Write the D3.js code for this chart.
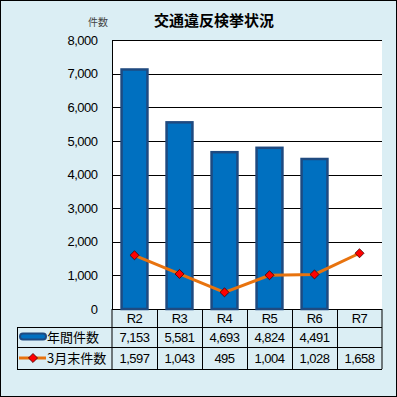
<!DOCTYPE html>
<html>
<head>
<meta charset="utf-8">
<script src="https://cdn.jsdelivr.net/npm/d3@7"></script>
<style>
  body { margin: 0; background: #fff; }
  svg text { font-family: "Noto Sans CJK JP", "DejaVu Sans", sans-serif; }
</style>
</head>
<body>
<div id="chart"></div>
<script>
// data
var categories = ["R2", "R3", "R4", "R5", "R6", "R7"];
var annualCounts = [7153, 5581, 4693, 4824, 4491, null];
var marchCounts = [1597, 1043, 495, 1004, 1028, 1658];
var yTicks = [0, 1000, 2000, 3000, 4000, 5000, 6000, 7000, 8000];
var seriesNames = ["年間件数", "3月末件数"];

var W = 397, H = 397;
var plot = {left: 112, right: 382, top: 40, bottom: 309};
var tableLeft = 17, rowH = [18, 20, 22];
var numFont = "'Liberation Sans', Arial, sans-serif";

var svg = d3.select("#chart").append("svg")
    .attr("width", W)
    .attr("height", H);

// background + frame
svg.append("rect")
    .attr("x", 0.5).attr("y", 0.5)
    .attr("width", W - 1).attr("height", H - 1)
    .attr("fill", "#dbeef4")
    .attr("stroke", "#000");

svg.append("rect")
    .attr("x", plot.left).attr("y", plot.top)
    .attr("width", plot.right - plot.left).attr("height", plot.bottom - plot.top)
    .attr("fill", "#fff");

var fmt = d3.format(",");

var x = d3.scaleBand()
  .domain(categories)
  .range([plot.left, plot.right])
  .paddingInner(0.38)
  .paddingOuter(0.19);

var xc = function(d) { return x(d) + x.bandwidth() / 2; };

var y = d3.scaleLinear()
  .domain([0, 8000])
  .range([plot.bottom, plot.top]);

// gridlines
svg.append("g")
  .selectAll("line")
  .data(yTicks)
  .enter()
  .append("line")
    .attr("x1", plot.left).attr("x2", plot.right)
    .attr("y1", function(d) { return Math.round(y(d)) + 0.5; })
    .attr("y2", function(d) { return Math.round(y(d)) + 0.5; })
    .attr("stroke", "#000");

// y axis
var yAxis = svg.append("g")
  .attr("transform", "translate(" + (plot.left + 0.5) + ",0)")
  .call(d3.axisLeft(y).tickValues(yTicks).tickFormat(fmt).tickSize(0).tickPadding(15));
yAxis.select(".domain")
  .attr("stroke", "#000")
  .attr("d", "M0," + plot.top + "V" + plot.bottom);
yAxis.selectAll("text")
  .attr("font-size", 13)
  .attr("fill", "#000")
  .style("font-family", numFont)
  .attr("letter-spacing", "-0.5");

// unit label + title
svg.append("text")
  .attr("x", 98).attr("y", 26)
  .attr("text-anchor", "middle")
  .attr("font-size", 10)
  .attr("fill", "#444")
  .text("件数");

svg.append("text")
  .attr("x", 214).attr("y", 26)
  .attr("text-anchor", "middle")
  .attr("font-size", 15)
  .attr("font-weight", "bold")
  .text("交通違反検挙状況");

// bars
svg.append("g")
  .selectAll("rect")
  .data(categories.map(function(c, i) { return {c: c, v: annualCounts[i]}; })
    .filter(function(d) { return d.v != null; }))
  .enter()
  .append("rect")
    .attr("x", function(d) { return x(d.c) + 1; })
    .attr("y", function(d) { return y(d.v) + 1; })
    .attr("width", x.bandwidth() - 2)
    .attr("height", function(d) { return y(0) - y(d.v) - 1; })
    .attr("fill", "#0070c0")
    .attr("stroke", "#1f4a80")
    .attr("stroke-width", 2.5);

// line
var lineData = categories.map(function(c, i) { return {c: c, v: marchCounts[i]}; });
svg.append("path")
  .datum(lineData)
  .attr("fill", "none")
  .attr("stroke", "#e8730e")
  .attr("stroke-width", 3)
  .attr("d", d3.line()
    .x(function(d) { return xc(d.c); })
    .y(function(d) { return y(d.v); }));

var diamond = d3.symbol().type(d3.symbolDiamond2).size(52);
svg.append("g")
  .selectAll("path")
  .data(lineData)
  .enter()
  .append("path")
    .attr("d", diamond)
    .attr("transform", function(d) { return "translate(" + xc(d.c) + "," + y(d.v) + ")"; })
    .attr("fill", "#ff0000")
    .attr("stroke", "#400000")
    .attr("stroke-width", 0.8);

// data table
var t0 = plot.bottom, t1 = t0 + rowH[0], t2 = t1 + rowH[1], t3 = t2 + rowH[2];
var tbl = svg.append("g").attr("stroke", "#000").attr("fill", "none");
tbl.append("path").attr("d",
  "M" + plot.left + "," + t0 + "V" + t3 +
  "M" + plot.right + "," + t0 + "V" + t3 +
  "M" + plot.left + "," + (t1 + 0.5) + "H" + plot.right +
  "M" + tableLeft + "," + (t1 + 0.5) + "H" + plot.left +
  "M" + tableLeft + "," + (t2 + 0.5) + "H" + plot.right +
  "M" + tableLeft + "," + (t3 + 0.5) + "H" + plot.right +
  "M" + (tableLeft + 0.5) + "," + t1 + "V" + t3);
tbl.selectAll("line")
  .data(categories.slice(1))
  .enter()
  .append("line")
    .attr("x1", function(d) { return Math.round(xc(d) - x.step() / 2) + 0.5; })
    .attr("x2", function(d) { return Math.round(xc(d) - x.step() / 2) + 0.5; })
    .attr("y1", t0).attr("y2", t3);

var cellText = function(rowY, vals) {
  svg.append("g")
    .selectAll("text")
    .data(categories.map(function(c, i) { return {c: c, v: vals[i]}; }))
    .enter()
    .append("text")
      .attr("x", function(d) { return xc(d.c); })
      .attr("y", rowY)
      .attr("text-anchor", "middle")
      .attr("font-size", 13)
      .attr("letter-spacing", "-0.5")
      .style("font-family", numFont)
      .text(function(d) { return d.v == null ? "" : (typeof d.v === "number" ? fmt(d.v) : d.v); });
};
cellText(t0 + 14, categories);
cellText(t1 + 15, annualCounts);
cellText(t2 + 16, marchCounts);

// legend keys in the table header
svg.append("rect")
  .attr("x", 20).attr("y", t1 + 6.5)
  .attr("width", 26).attr("height", 6)
  .attr("rx", 3)
  .attr("fill", "#0070c0")
  .attr("stroke", "#1f4a80")
  .attr("stroke-width", 2);
svg.append("line")
  .attr("x1", 19).attr("x2", 46)
  .attr("y1", t2 + 11).attr("y2", t2 + 11)
  .attr("stroke", "#e8730e")
  .attr("stroke-width", 3);
svg.append("path")
  .attr("d", diamond)
  .attr("transform", "translate(33," + (t2 + 11) + ")")
  .attr("fill", "#ff0000")
  .attr("stroke", "#400000")
  .attr("stroke-width", 0.8);

svg.append("g")
  .selectAll("text")
  .data(seriesNames)
  .enter()
  .append("text")
    .attr("x", 47)
    .attr("y", function(d, i) { return i === 0 ? t1 + 15 : t2 + 16; })
    .attr("font-size", 13)
    .text(function(d) { return d; });
</script>
</body>
</html>
